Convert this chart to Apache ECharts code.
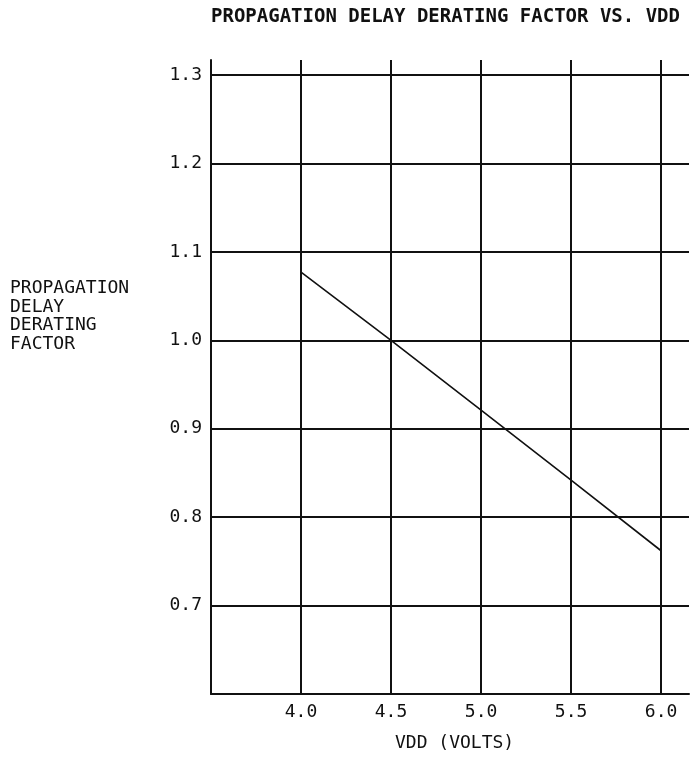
<!DOCTYPE html>
<html>
<head>
<meta charset="utf-8">
<script src="https://cdn.jsdelivr.net/npm/echarts@6/dist/echarts.min.js"></script>
<style>
  html, body { margin: 0; padding: 0; background: #fff; }
  #chart { width: 691px; height: 761px; }
</style>
</head>
<body>
<div id="chart"></div>
<script>
// Supply voltage (V) and the propagation delay derating factor at each voltage
const vdd = [4.0, 4.5, 5.0, 5.5, 6.0];
const derating = [1.077, 1.0, 0.921, 0.842, 0.762];

// Tick labels drawn along each axis
const xTickLabels = ['4.0', '4.5', '5.0', '5.5', '6.0'];
const yTickLabels = ['0.7', '0.8', '0.9', '1.0', '1.1', '1.2', '1.3'];

const titleText = 'PROPAGATION DELAY DERATING FACTOR VS. VDD';
const xName = 'VDD (VOLTS)';
const yNameLines = ['PROPAGATION', 'DELAY', 'DERATING', 'FACTOR'];

const FONT = '"DejaVu Sans Mono", "Liberation Mono", monospace';
const INK = '#111';

const chart = echarts.init(document.getElementById('chart'), null, { renderer: 'canvas' });

chart.setOption({
  backgroundColor: '#fff',
  animation: false,
  grid: { left: 211, right: 2, top: 60, bottom: 67, containLabel: false },
  xAxis: {
    type: 'value',
    min: 3.5,
    max: 6.155,
    interval: 0.5,
    axisLine: { show: true, onZero: false, lineStyle: { color: INK, width: 2 } },
    axisTick: { show: false },
    splitLine: { show: true, showMaxLine: false, lineStyle: { color: INK, width: 2 } },
    axisLabel: {
      margin: 9,
      fontFamily: FONT,
      fontSize: 18,
      color: INK,
      showMaxLabel: false,
      formatter: function (v) {
        const s = v.toFixed(1);
        return xTickLabels.indexOf(s) >= 0 ? s : '';
      }
    }
  },
  yAxis: {
    type: 'value',
    min: 0.6,
    max: 1.317,
    interval: 0.1,
    axisLine: { show: true, onZero: false, lineStyle: { color: INK, width: 2 } },
    axisTick: { show: false },
    splitLine: { show: true, showMaxLine: false, lineStyle: { color: INK, width: 2 } },
    axisLabel: {
      margin: 9,
      fontFamily: FONT,
      fontSize: 18,
      color: INK,
      showMaxLabel: false,
      formatter: function (v) {
        const s = v.toFixed(1);
        return yTickLabels.indexOf(s) >= 0 && Math.abs(v - parseFloat(s)) < 1e-6 ? s : '';
      }
    }
  },
  graphic: [
    {
      type: 'text',
      left: 211,
      top: 8,
      style: { text: titleText, font: 'bold 19px ' + FONT, fill: INK }
    },
    {
      type: 'text',
      left: 395,
      top: 734,
      style: { text: xName, font: '18px ' + FONT, fill: INK }
    },
    {
      type: 'text',
      left: 10,
      top: 279,
      style: { text: yNameLines.join('\n'), font: '18px ' + FONT, lineHeight: 18.7, fill: INK }
    }
  ],
  series: [
    {
      type: 'line',
      data: vdd.map((v, i) => [v, derating[i]]),
      showSymbol: false,
      lineStyle: { color: INK, width: 1.6 },
      z: 5
    }
  ]
});
</script>
</body>
</html>
